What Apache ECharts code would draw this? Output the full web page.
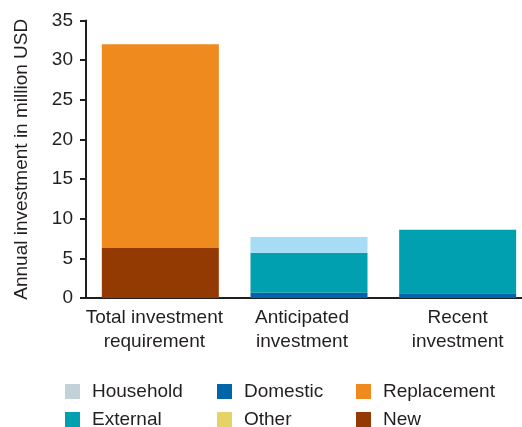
<!DOCTYPE html>
<html>
<head>
<meta charset="utf-8">
<script src="https://cdn.jsdelivr.net/npm/echarts@6/dist/echarts.min.js"></script>
<style>html,body{margin:0;padding:0;background:#fff}#c{width:522px;height:427px}</style>
</head>
<body>
<div id="c"></div>
<script>
const categories = ['Total investment\nrequirement', 'Anticipated\ninvestment', 'Recent\ninvestment'];
const yTicks = [0, 5, 10, 15, 20, 25, 30, 35];
const newVals = [6.3, '-', '-'];
const domesticVals = ['-', 0.7, 0.6];
const externalVals = ['-', 5.0, 8.0];
const householdVals = ['-', 2.0, '-'];
const replacementVals = [25.7, '-', '-'];
const otherVals = ['-', '-', '-'];

const FONT = 'Liberation Sans, Arial, Helvetica, sans-serif';
const TXT = '#231f20';
const FS = 19;
const HOUSEHOLD_BAR = '#a6dcf5';

function bar(name, data, color, dataColor) {
  return {
    name, type: 'bar', stack: 's', data: data.map(v => dataColor && v !== '-' ? {value: v, itemStyle: {color: dataColor}} : v),
    barWidth: 117, itemStyle: {color}, emphasis: {disabled: true}
  };
}
function legend(left, top, name) {
  return {
    left, top, padding: 0, itemWidth: 15, itemHeight: 15,
    icon: 'rect', data: [name], selectedMode: false,
    textStyle: {fontFamily: FONT, fontSize: FS, color: TXT, padding: [0, 0, 0, 7]}
  };
}
const labStyle = (padRight) => ({fontFamily: FONT, fontSize: FS, color: TXT, lineHeight: 24, padding: [0, padRight, 0, 0]});
const chart = echarts.init(document.getElementById('c'));
chart.setOption({
  animation: false,
  grid: {left: 86, right: -10, top: 20.5, bottom: 129, outerBoundsMode: 'none', containLabel: false},
  legend: [
    legend(65, 382, 'Household'),
    legend(65, 410, 'External'),
    legend(217, 382, 'Domestic'),
    legend(217, 410, 'Other'),
    legend(356, 382, 'Replacement'),
    legend(356, 410, 'New')
  ],
  xAxis: {
    type: 'category', data: categories,
    axisLine: {lineStyle: {color: '#231f20', width: 2}},
    axisTick: {inside: true, length: 6, lineStyle: {color: '#231f20', width: 2}},
    axisLabel: {
      interval: 0, fontFamily: FONT, fontSize: FS, color: TXT, lineHeight: 24, margin: 8,
      formatter: (v, i) => {
        const k = i === 0 ? 'a' : (i === 1 ? 'b' : 'c');
        return v.split('\n').map(s => '{' + k + '|' + s + '}').join('\n');
      },
      rich: {a: labStyle(12), b: labStyle(14), c: labStyle(0)}
    }
  },
  yAxis: {
    type: 'value', min: yTicks[0], max: yTicks[yTicks.length - 1], interval: 5,
    name: 'Annual investment in million USD', nameLocation: 'middle', nameGap: 55,
    nameTextStyle: {fontFamily: FONT, fontSize: FS, color: TXT},
    axisLine: {show: true, lineStyle: {color: '#231f20', width: 2}},
    axisTick: {show: true, length: 6, lineStyle: {color: '#231f20', width: 2}},
    axisLabel: {fontFamily: FONT, fontSize: FS, color: TXT, margin: 13},
    splitLine: {show: false}
  },
  series: [
    bar('New', newVals, '#933a02'),
    bar('Domestic', domesticVals, '#0066a9'),
    bar('External', externalVals, '#00a0b0'),
    bar('Household', householdVals, '#c3d1d8', HOUSEHOLD_BAR),
    bar('Replacement', replacementVals, '#ee8a1e'),
    bar('Other', otherVals, '#e6d366')
  ]
});
</script>
</body>
</html>
